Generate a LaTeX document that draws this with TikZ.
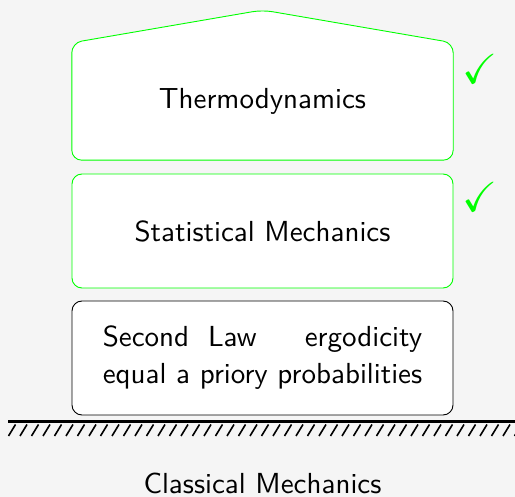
\documentclass[tikz,border=0pt]{standalone}
\usepackage{amssymb}
\usepackage{graphicx}
\usetikzlibrary{backgrounds,calc}
\definecolor{bg}{RGB}{245,245,245}
\definecolor{chk}{RGB}{0,255,0}
\newlength\lineW
\newcommand\bigtxt[1]{\scalebox{2.9}{\sffamily #1}}
\tikzset{
  lbl/.style={inner sep=0pt},
  box/.style={lbl, draw, fill=white, rounded corners=10pt, minimum width=381pt,
    minimum height=114pt, line width=0.9pt},
  greenbox/.style={box, draw=chk},
  chkmark/.style={text=chk, inner sep=0pt},
  hatch/.style={line width=1.6pt},
}
\begin{document}
\settowidth{\lineW}{\sffamily equal a priory probabilities}%
\begin{tikzpicture}[x=1pt,y=-1pt]
\useasboundingbox (0,0) rectangle (515,497);
% top box (Thermodynamics) with roof
\node[lbl, minimum width=381pt, minimum height=117pt] (thermo) at (262.5,101.5) {\bigtxt{Thermodynamics}};
\coordinate (peak) at (262.5,10);
\begin{scope}[on background layer]
  \fill[bg] (0,0) rectangle (515,497);
  \draw[chk, line width=0.9pt, fill=white, rounded corners=10pt]
    (thermo.south west) -- (thermo.north west) -- (peak) -- (thermo.north east) -- (thermo.south east) -- cycle;
\end{scope}
\node[greenbox] (stat) at (262.5,231) {\bigtxt{Statistical Mechanics}};
\node[box] (base) at (262.5,358)
  {\bigtxt{\renewcommand\arraystretch{1.063}\begin{tabular}{@{}c@{}}\makebox[\lineW][l]{Second\hspace{6.5pt}Law\hfill ergodicity}\\equal a priory probabilities\end{tabular}}};
\node[chkmark] (c1) at (479.5,69) {\scalebox{4.2}{$\checkmark$}};
\node[chkmark] (c2) at (479.5,197) {\scalebox{4.2}{$\checkmark$}};
% ground
\coordinate (gl) at (8,421.5);
\coordinate (gr) at (515,421.5);
\draw[line width=3pt] (gl) -- (gr);
\foreach \x in {8.5,20,...,515} \draw[hatch] (\x,436) -- (\x+7,424.5);
\node[lbl, anchor=base] (cm) at (262.5,494) {\bigtxt{Classical Mechanics}};
\end{tikzpicture}
\end{document}
